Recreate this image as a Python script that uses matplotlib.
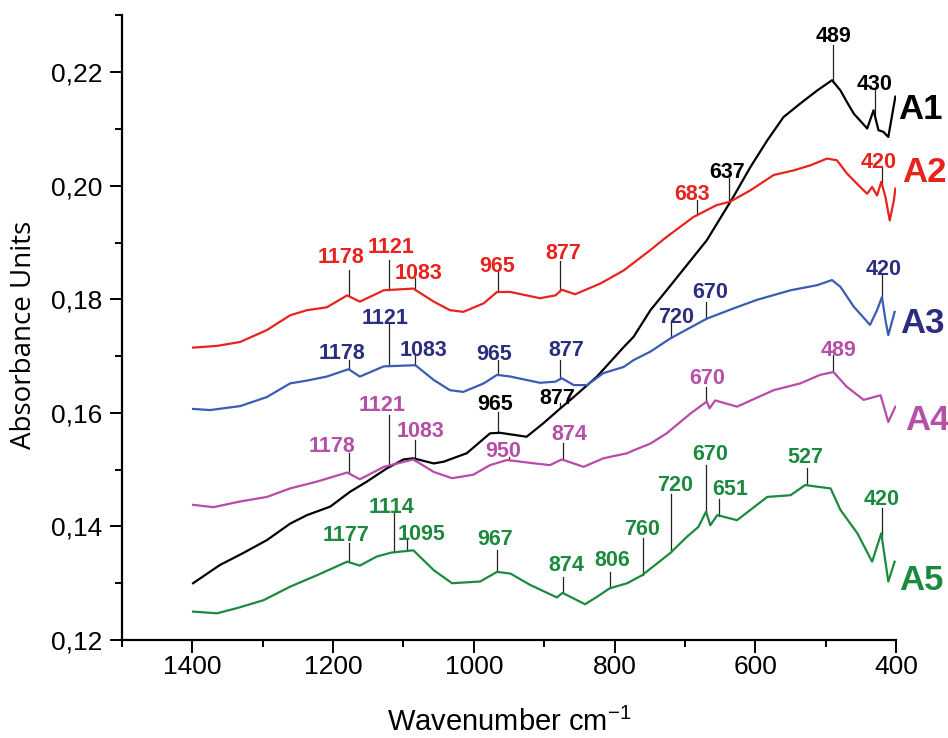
import numpy as np
import matplotlib
matplotlib.use('Agg')
import matplotlib.pyplot as plt
from matplotlib.ticker import MultipleLocator, FuncFormatter

plt.rcParams['font.family'] = ['Liberation Sans', 'DejaVu Sans']
plt.rcParams['mathtext.fontset'] = 'custom'
plt.rcParams['mathtext.rm'] = 'Liberation Sans'

# spectra: (wavenumber cm-1, absorbance)
a1 = np.array([
    (1399, 0.1300), (1361, 0.1332), (1328, 0.1353), (1294, 0.1376), (1261, 0.1405),
    (1237, 0.1420), (1204, 0.1435), (1176, 0.1461), (1152, 0.1479), (1124, 0.1502),
    (1100, 0.1518), (1086, 0.1520), (1057, 0.1511), (1043, 0.1514), (1010, 0.1529),
    (977, 0.1564), (963, 0.1565), (925, 0.1558), (901, 0.1582), (877, 0.1608),
    (858, 0.1628), (825, 0.1664), (787, 0.1716), (773, 0.1734), (749, 0.1781),
    (726, 0.1816), (669, 0.1904), (631, 0.1981), (607, 0.2033), (583, 0.2080),
    (560, 0.2121), (536, 0.2145), (512, 0.2168), (491, 0.2186), (479, 0.2168),
    (470, 0.2148), (460, 0.2127), (441, 0.2101), (432, 0.2133), (425, 0.2098),
    (418, 0.2095), (411, 0.2086), (401, 0.2157),
])
a2 = np.array([
    (1399, 0.1715), (1365, 0.1718), (1332, 0.1725), (1294, 0.1746), (1261, 0.1772),
    (1237, 0.1781), (1209, 0.1786), (1180, 0.1807), (1162, 0.1796), (1128, 0.1816),
    (1086, 0.1819), (1057, 0.1796), (1034, 0.1781), (1015, 0.1778), (986, 0.1793),
    (967, 0.1813), (948, 0.1813), (906, 0.1802), (884, 0.1807), (875, 0.1817),
    (856, 0.1809), (820, 0.1828), (787, 0.1851), (749, 0.1887), (726, 0.1910),
    (688, 0.1945), (655, 0.1966), (636, 0.1972), (607, 0.1992), (574, 0.2019),
    (546, 0.2027), (522, 0.2036), (498, 0.2048), (484, 0.2045), (470, 0.2022),
    (451, 0.1998), (441, 0.1986), (434, 0.1998), (427, 0.1983), (421, 0.2007),
    (415, 0.1980), (409, 0.1939), (403, 0.1975), (401, 0.1995),
])
a3 = np.array([
    (1399, 0.1607), (1375, 0.1605), (1332, 0.1612), (1294, 0.1628), (1261, 0.1652),
    (1237, 0.1657), (1209, 0.1664), (1178, 0.1677), (1162, 0.1664), (1128, 0.1682),
    (1083, 0.1684), (1057, 0.1658), (1034, 0.1640), (1015, 0.1637), (986, 0.1652),
    (967, 0.1667), (948, 0.1664), (906, 0.1653), (884, 0.1655), (875, 0.1661),
    (858, 0.1649), (839, 0.1649), (816, 0.1670), (787, 0.1681), (773, 0.1693),
    (749, 0.1708), (721, 0.1731), (669, 0.1766), (631, 0.1784), (598, 0.1799),
    (550, 0.1816), (512, 0.1825), (491, 0.1834), (479, 0.1822), (460, 0.1787),
    (437, 0.1755), (427, 0.1781), (420, 0.1804), (415, 0.1763), (411, 0.1737),
    (402, 0.1778),
])
a4 = np.array([
    (1399, 0.1438), (1370, 0.1434), (1332, 0.1444), (1294, 0.1452), (1261, 0.1467),
    (1223, 0.1479), (1180, 0.1495), (1162, 0.1483), (1128, 0.1505), (1086, 0.1518),
    (1057, 0.1496), (1031, 0.1485), (1001, 0.1491), (977, 0.1508), (953, 0.1517),
    (920, 0.1512), (892, 0.1508), (875, 0.1518), (844, 0.1505), (816, 0.1520),
    (782, 0.1529), (773, 0.1534), (749, 0.1546), (726, 0.1564), (692, 0.1599),
    (669, 0.1620), (665, 0.1608), (657, 0.1622), (626, 0.1611), (574, 0.1640),
    (536, 0.1652), (508, 0.1667), (489, 0.1672), (470, 0.1646), (446, 0.1623),
    (422, 0.1631), (411, 0.1584), (401, 0.1611),
])
a5 = np.array([
    (1399, 0.1250), (1365, 0.1247), (1337, 0.1256), (1299, 0.1270), (1261, 0.1294),
    (1223, 0.1314), (1180, 0.1338), (1162, 0.1331), (1138, 0.1347), (1117, 0.1354),
    (1086, 0.1358), (1057, 0.1323), (1031, 0.1300), (991, 0.1303), (967, 0.1320),
    (948, 0.1317), (920, 0.1297), (882, 0.1275), (874, 0.1283), (842, 0.1263),
    (825, 0.1276), (807, 0.1291), (782, 0.1300), (761, 0.1314), (721, 0.1353),
    (697, 0.1382), (681, 0.1399), (670, 0.1426), (664, 0.1402), (654, 0.1420),
    (626, 0.1411), (583, 0.1452), (550, 0.1455), (529, 0.1473), (512, 0.1470),
    (493, 0.1467), (479, 0.1429), (455, 0.1388), (434, 0.1338), (421, 0.1388),
    (411, 0.1303), (402, 0.1338),
])

names = ['A1', 'A2', 'A3', 'A4', 'A5']
spectra = [a1, a2, a3, a4, a5]

# assigned bands for each sample
peaks = [
    [637, 489, 430, 965, 877],
    [1178, 1121, 1083, 965, 877, 683, 420],
    [1178, 1121, 1083, 965, 877, 720, 670, 420],
    [1178, 1121, 1083, 950, 874, 670, 489],
    [1177, 1114, 1095, 967, 874, 806, 760, 720, 670, 651, 527, 420],
]

# where each band label sits: (text x, text y, top of the marker line)
label_pos = [
    [(640, 0.2027, 0.2013), (489, 0.2267, 0.2248), (431, 0.2183, 0.2171),
     (970, 0.1620, 0.1602), (882, 0.1630, 0.1617)],
    [(1189, 0.1878, 0.1851), (1118, 0.1895, 0.1870), (1079, 0.1850, 0.1838),
     (967, 0.1863, 0.1851), (873, 0.1885, 0.1868), (690, 0.1989, 0.1975),
     (425, 0.2045, 0.2033)],
    [(1188, 0.1709, 0.1693), (1126, 0.1770, 0.1758), (1072, 0.1714, 0.1702),
     (971, 0.1708, 0.1693), (869, 0.1715, 0.1694), (712, 0.1772, 0.1760),
     (664, 0.1816, 0.1796), (417, 0.1857, 0.1843)],
    [(1202, 0.1546, 0.1529), (1130, 0.1617, 0.1596), (1076, 0.1571, 0.1552),
     (959, 0.1536, 0.1523), (865, 0.1567, 0.1547), (669, 0.1665, 0.1646),
     (482, 0.1714, 0.1702)],
    [(1181, 0.1389, 0.1370), (1117, 0.1438, 0.1426), (1074, 0.1391, 0.1379),
     (970, 0.1381, 0.1358), (868, 0.1335, 0.1311), (804, 0.1345, 0.1320),
     (761, 0.1399, 0.1380), (714, 0.1477, 0.1458), (664, 0.1532, 0.1508),
     (636, 0.1469, 0.1449), (529, 0.1526, 0.1503), (421, 0.1452, 0.1432)],
]

line_colors = ['#000000', '#e8231e', '#3a5cb2', '#b84aaa', '#1c8a3e']
text_colors = ['#000000', '#e8231e', '#2b2d7e', '#b54fa8', '#1c8a3e']
name_pos = [(397, 0.2140), (391, 0.2030), (394, 0.1763), (387, 0.1593), (395, 0.1311)]

fig = plt.figure(figsize=(9.48, 7.38), dpi=100)
ax = fig.add_axes([0.1287, 0.1328, 0.8165, 0.8462])

for spec, lc, tc, pk, pos, name, npos in zip(spectra, line_colors, text_colors,
                                              peaks, label_pos, names, name_pos):
    wn, ab = spec[:, 0], spec[:, 1]
    ax.plot(wn, ab, color=lc, lw=1.6, zorder=3)
    for p, (tx, ty, top) in zip(pk, pos):
        bottom = np.interp(p, wn[::-1], ab[::-1])
        ax.plot([p, p], [top, bottom], color='#222222', lw=0.9, zorder=2)
        ax.text(tx, ty, str(p), ha='center', va='center_baseline', fontsize=15.5,
                fontweight='bold', color=tc, zorder=4)
    ax.text(npos[0], npos[1], name, ha='left', va='center_baseline', fontsize=25,
            fontweight='bold', color=tc, clip_on=False)

ax.set_xlim(1500, 400)
ax.set_ylim(0.12, 0.23)
ax.xaxis.set_major_locator(MultipleLocator(200))
ax.xaxis.set_minor_locator(MultipleLocator(100))
ax.yaxis.set_major_locator(MultipleLocator(0.02))
ax.yaxis.set_minor_locator(MultipleLocator(0.01))
ax.yaxis.set_major_formatter(FuncFormatter(lambda v, p: f'{v:.2f}'.replace('.', ',')))

for s in ['top', 'right']:
    ax.spines[s].set_visible(False)
for s in ['left', 'bottom']:
    ax.spines[s].set_linewidth(1.6)

ax.tick_params(which='major', direction='out', length=9, width=1.4, labelsize=19)
ax.tick_params(which='minor', direction='out', length=5, width=1.4)
ax.tick_params(axis='y', pad=5)
ax.tick_params(axis='x', pad=2)

ax.set_xlabel('Wavenumber cm$^{-1}$', fontsize=21)
ax.xaxis.set_label_coords(0.5, -0.108)
ax.set_ylabel('Absorbance Units', fontsize=20, family=['Open Sans', 'DejaVu Sans'])
ax.yaxis.set_label_coords(-0.108, 0.488)

fig.savefig('out.png', dpi=100)
